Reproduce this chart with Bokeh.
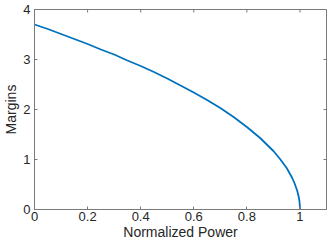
import math
from bokeh.plotting import figure
from bokeh.models import FixedTicker, Range1d
from bokeh.embed import file_html
from bokeh.resources import INLINE

power = [0, 0.05, 0.1, 0.15, 0.2, 0.25, 0.3, 0.35, 0.4, 0.45, 0.5, 0.55, 0.6, 0.65,
         0.7, 0.75, 0.8, 0.85, 0.9, 0.925, 0.95, 0.97, 0.98, 0.99, 0.995, 0.998, 0.9995, 1.0]
margins = [3.70, 3.61, 3.51, 3.41, 3.31, 3.20, 3.10, 2.98, 2.87, 2.75, 2.62, 2.48, 2.34, 2.19,
           2.03, 1.85, 1.65, 1.43, 1.17, 1.01, 0.83, 0.64, 0.52, 0.37, 0.26, 0.17, 0.08, 0.0]
x_ticks = [0, 0.2, 0.4, 0.6, 0.8, 1.0]
x_tick_labels = ["0", "0.2", "0.4", "0.6", "0.8", "1"]
y_ticks = [0, 1, 2, 3, 4]
y_tick_labels = ["0", "1", "2", "3", "4"]
x_lim = (0, 1.1)
y_lim = (0, 4)

FONT = "Liberation Sans"
TXT = "#262626"
AX = "#7a7a7a"

p = figure(width=332, height=242, output_backend="svg", toolbar_location=None,
           x_range=Range1d(*x_lim), y_range=Range1d(*y_lim),
           x_axis_label="Normalized Power", y_axis_label="Margins",
           min_border_left=31, min_border_right=6, min_border_top=9, min_border_bottom=2)
p.grid.visible = False
p.outline_line_color = AX
p.outline_line_width = 1
p.background_fill_color = "white"
p.border_fill_color = "white"

# top and right box ticks, pointing inward
p.ray(x=x_ticks, y=[y_lim[1]] * len(x_ticks), length=3, length_units="screen",
      angle=-math.pi / 2, line_color=AX, line_width=1)
p.ray(x=[x_lim[1]] * len(y_ticks), y=y_ticks, length=3, length_units="screen",
      angle=math.pi, line_color=AX, line_width=1)

p.line(power, margins, line_color="#0072BD", line_width=1.8)

xa = p.xaxis[0]
ya = p.yaxis[0]
xa.ticker = FixedTicker(ticks=x_ticks)
ya.ticker = FixedTicker(ticks=y_ticks)
xa.major_label_overrides = {t: l for t, l in zip(x_ticks, x_tick_labels)}
ya.major_label_overrides = {t: l for t, l in zip(y_ticks, y_tick_labels)}
for a in (xa, ya):
    a.axis_line_color = AX
    a.major_tick_line_color = AX
    a.major_tick_in = 3
    a.major_tick_out = 0
    a.minor_tick_line_color = None
    a.major_label_text_font = FONT
    a.major_label_text_font_size = "13px"
    a.major_label_text_color = TXT
    a.axis_label_text_font = FONT
    a.axis_label_text_font_size = "14px"
    a.axis_label_text_font_style = "normal"
    a.axis_label_text_color = TXT
xa.major_label_standoff = 2
xa.axis_label_standoff = 0
ya.major_label_standoff = 4
ya.axis_label_standoff = 1

open("out.html", "w").write(file_html(p, INLINE))
